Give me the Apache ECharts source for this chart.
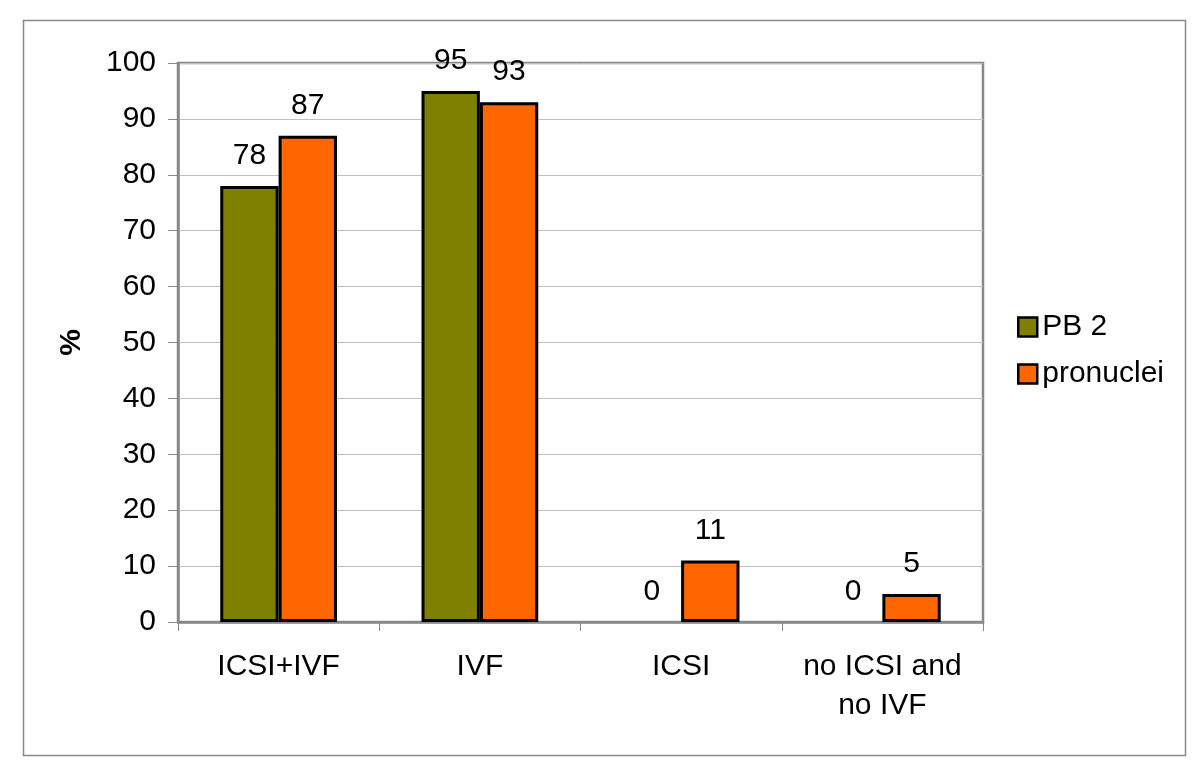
<!DOCTYPE html>
<html>
<head>
<meta charset="utf-8">
<script src="https://cdn.jsdelivr.net/npm/echarts@6/dist/echarts.min.js"></script>
<style>
html,body{margin:0;padding:0;background:#fff;}
#c{width:1200px;height:776px;}
</style>
</head>
<body>
<div id="c"></div>
<script>
const categories = ['ICSI+IVF', 'IVF', 'ICSI', 'no ICSI and\nno IVF'];
const seriesNames = ['PB 2', 'pronuclei'];
const pb2 = [78, 95, 0, 0];
const pronuclei = [87, 93, 11, 5];
const yTicks = [0, 10, 20, 30, 40, 50, 60, 70, 80, 90, 100];

const FONT = '"Liberation Sans", Arial, sans-serif';
const FS = 30;
const chart = echarts.init(document.getElementById('c'), null, {renderer: 'canvas'});

const labelStyle = {show: true, position: 'top', distance: 15, color: '#000', fontSize: FS, fontFamily: FONT};
// zero-height bars: hide their border line on the baseline
const toData = arr => arr.map(v => v === 0 ? {value: v, itemStyle: {borderWidth: 0}} : v);

chart.setOption({
  backgroundColor: '#fff',
  animation: false,
  graphic: [{
    type: 'rect', left: 21, top: 18, shape: {width: 1162, height: 735},
    style: {fill: 'none', stroke: '#888', lineWidth: 1.5}, silent: true
  }],
  grid: {
    left: 178, right: 217, top: 63, bottom: 154,
    show: true, borderColor: '#888', borderWidth: 2.5, backgroundColor: 'transparent'
  },
  legend: {
    orient: 'vertical', left: 1012, top: 307,
    itemWidth: 19, itemHeight: 19, itemGap: 17,
    icon: 'rect',
    itemStyle: {borderColor: '#000', borderWidth: 2.5},
    textStyle: {color: '#000', fontSize: FS, fontFamily: FONT},
    data: seriesNames
  },
  xAxis: {
    type: 'category', data: categories,
    axisLine: {lineStyle: {color: '#888', width: 2.5}},
    axisTick: {show: true, interval: 0, length: 9, lineStyle: {color: '#888', width: 1}},
    axisLabel: {interval: 0, color: '#000', fontSize: FS, fontFamily: FONT, margin: 25, lineHeight: 39}
  },
  yAxis: {
    type: 'value', min: 0, max: 100, interval: 10,
    name: '%', nameLocation: 'middle', nameGap: 91, nameRotate: 90,
    nameTextStyle: {color: '#000', fontSize: FS, fontWeight: 'bold', fontFamily: FONT},
    axisLine: {show: true, lineStyle: {color: '#888', width: 2.5}},
    axisTick: {show: true, length: 10, lineStyle: {color: '#888', width: 1}},
    axisLabel: {color: '#000', fontSize: FS, fontFamily: FONT, margin: 22,
      formatter: v => yTicks.includes(v) ? String(v) : ''},
    splitLine: {show: true, lineStyle: {color: '#c0c0c0', width: 1}}
  },
  series: [
    {
      name: seriesNames[0], type: 'bar', data: toData(pb2),
      barGap: '0%', barCategoryGap: '42%',
      itemStyle: {color: '#808000', borderColor: '#000', borderWidth: 3},
      label: labelStyle
    },
    {
      name: seriesNames[1], type: 'bar', data: toData(pronuclei),
      barGap: '0%', barCategoryGap: '42%',
      itemStyle: {color: '#FF6600', borderColor: '#000', borderWidth: 3},
      label: labelStyle
    }
  ]
});
</script>
</body>
</html>
